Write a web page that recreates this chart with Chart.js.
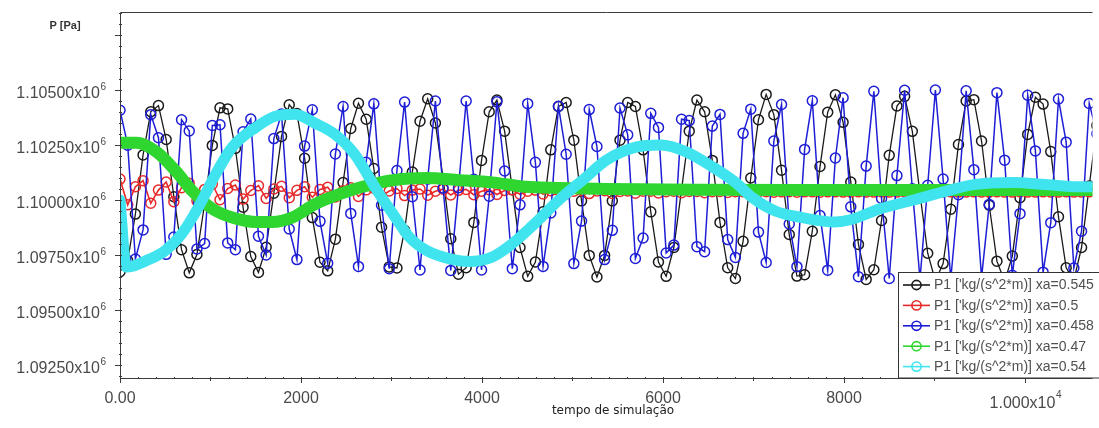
<!DOCTYPE html>
<html>
<head>
<meta charset="utf-8">
<script src="https://cdn.jsdelivr.net/npm/chart.js@4.4.1/dist/chart.umd.min.js"></script>
<style>
  html, body { margin: 0; padding: 0; background: #fff; }
  canvas { display: block; }
</style>
</head>
<body>
<canvas id="chart" width="1099" height="428"></canvas>
<script>
// output step of the simulation (tempo) for the sampled series
const STEP = 85;

// P1 xa=0.545 (black)
const blackP = [1096740, 1097250, 1099360, 1102050, 1104010, 1104290, 1102750, 1100150, 1097740, 1096690,
  1097520, 1099830, 1102480, 1104190, 1104140, 1102340, 1099670, 1097430, 1096710, 1097850,
  1100310, 1102890, 1104330, 1103930, 1101900, 1099200, 1097170, 1096780, 1098220, 1100790,
  1103250, 1104400, 1103670, 1101430, 1098760, 1096960, 1096910, 1098620, 1101270, 1103580,
  1104600, 1103500, 1100980, 1098240, 1096630, 1096920, 1098980, 1101800, 1104010, 1104540,
  1103130, 1100470, 1097840, 1096530, 1097180, 1099460, 1102280, 1104250, 1104430, 1102720,
  1099960, 1097480, 1096500, 1097480, 1099960, 1102720, 1104430, 1104250, 1102280, 1099460,
  1097180, 1096530, 1097840, 1100470, 1103130, 1104540, 1104010, 1101800, 1098980, 1096920,
  1096430, 1098120, 1101000, 1103650, 1104800, 1103880, 1101350, 1098430, 1096540, 1096600,
  1098580, 1101520, 1103990, 1104780, 1103530, 1100820, 1097980, 1096390, 1096830, 1099070,
  1102030, 1104270, 1104710, 1103120, 1100280, 1097580, 1096320, 1097110, 1099580, 1102520,
  1104500, 1104560, 1102680, 1099760, 1097220, 1096300, 1097450, 1100100, 1102980, 1104670,
  1104360, 1102200, 1099240, 1096920, 1096360, 1097840, 1100640, 1103390];

// P1 xa=0.5 (red)
const redP = [1100950, 1099780, 1100600, 1100880, 1099850, 1100450, 1100820, 1099920, 1100560, 1100760,
  1099960, 1100480, 1100720, 1100010, 1100520, 1100680, 1100040, 1100430, 1100650, 1100070,
  1100500, 1100620, 1100100, 1100440, 1100600, 1100120, 1100480, 1100580, 1100140, 1100420,
  1100560, 1100160, 1100460, 1100540, 1100180, 1100410, 1100520, 1100200, 1100450, 1100500,
  1100220, 1100400, 1100490, 1100230, 1100440, 1100480, 1100240, 1100400, 1100470, 1100250,
  1100430, 1100460, 1100260, 1100400, 1100450, 1100270, 1100420, 1100440, 1100280, 1100400,
  1100430, 1100290, 1100410, 1100420, 1100300, 1100390, 1100410, 1100310, 1100400, 1100400,
  1100320, 1100380, 1100400, 1100330, 1100390, 1100390, 1100330, 1100380, 1100390, 1100340,
  1100380, 1100380, 1100340, 1100370, 1100380, 1100350, 1100370, 1100380, 1100350, 1100370,
  1100370, 1100350, 1100370, 1100370, 1100360, 1100360, 1100370, 1100360, 1100360, 1100370,
  1100360, 1100360, 1100370, 1100360, 1100360, 1100370, 1100360, 1100360, 1100370, 1100360,
  1100360, 1100370, 1100360, 1100360, 1100370, 1100360, 1100360, 1100370, 1100360, 1100360,
  1100370, 1100360, 1100360, 1100370, 1100360, 1100360, 1100370];

// P1 xa=0.458 (blue)
const blueP = [1104080, 1102490, 1097320, 1098640, 1103880, 1102830, 1097530, 1098320, 1103650, 1103140,
  1097770, 1098020, 1103390, 1103420, 1098050, 1097740, 1103100, 1103680, 1098350, 1097500,
  1102790, 1103910, 1098680, 1097290, 1102450, 1104100, 1099030, 1097120, 1102090, 1104250,
  1099390, 1096980, 1101720, 1104370, 1099760, 1096880, 1101340, 1104450, 1100150, 1096820,
  1100950, 1104500, 1100540, 1096800, 1100560, 1104500, 1100940, 1096820, 1100170, 1104460,
  1101320, 1096880, 1099780, 1104380, 1101710, 1096980, 1099410, 1104260, 1102080, 1097110,
  1099040, 1104110, 1102430, 1097290, 1098620, 1104180, 1102960, 1097340, 1098270, 1103940,
  1103300, 1097590, 1097950, 1103670, 1103610, 1097880, 1097650, 1103360, 1103890, 1098200,
  1097390, 1103030, 1104130, 1098540, 1097160, 1102680, 1104340, 1098910, 1096970, 1102300,
  1104510, 1099290, 1096810, 1101910, 1104650, 1099690, 1096510, 1101540, 1104940, 1100070,
  1096430, 1101110, 1104990, 1100510, 1096400, 1100670, 1105000, 1100950, 1096410, 1100240,
  1104960, 1101380, 1096470, 1099800, 1104880, 1101810, 1096580, 1099380, 1104760, 1102230,
  1096720, 1098970, 1104590, 1102630, 1096910, 1098580, 1104390, 1103010];

// P1 xa=0.47 (green), read at these times
const greenT = [0, 180, 400, 620, 800, 1020, 1240, 1500, 1680, 1900, 2150, 2450, 2680, 3010, 3390,
  3750, 4110, 4480, 4850, 5400, 6390, 7480, 8580, 9680, 10770];
const greenP = [1102600, 1102600, 1102200, 1101300, 1100400, 1099600, 1099200, 1099000, 1099000, 1099200,
  1099800, 1100300, 1100600, 1100900, 1101000, 1100900, 1100800, 1100600, 1100550, 1100500,
  1100460, 1100450, 1100450, 1100450, 1100450];

// P1 xa=0.54 (cyan), read at these times
const cyanT = [0, 70, 320, 500, 690, 870, 1060, 1240, 1500, 1710, 1930, 2150, 2370, 2590, 2830,
  3010, 3200, 3390, 3670, 3860, 4110, 4300, 4550, 4850, 5140, 5370, 5700, 5980, 6250, 6550,
  6800, 6990, 7240, 7540, 7900, 8070, 8400, 8770, 9130, 9430, 9870, 10230, 10590, 10770];
const cyanP = [1100000, 1096950, 1097300, 1097700, 1098500, 1099700, 1101200, 1102400, 1103300, 1103800,
  1103900, 1103500, 1103000, 1102100, 1100500, 1099400, 1098300, 1097700, 1097300, 1097200,
  1097400, 1097900, 1098800, 1100000, 1101000, 1101800, 1102400, 1102500, 1102200, 1101500,
  1100800, 1100100, 1099500, 1099200, 1099000, 1099100, 1099600, 1100000, 1100400, 1100700,
  1100800, 1100700, 1100600, 1100600];

const seriesNames = [
  "P1 ['kg/(s^2*m)] xa=0.545",
  "P1 ['kg/(s^2*m)] xa=0.5",
  "P1 ['kg/(s^2*m)] xa=0.458",
  "P1 ['kg/(s^2*m)] xa=0.47",
  "P1 ['kg/(s^2*m)] xa=0.54"
];
const seriesColors = ["#1a1a1a", "#e82a2a", "#1e1ed6", "#30d630", "#40e4ee"];

const yTicks = [1092500, 1095000, 1097500, 1100000, 1102500, 1105000];
const yTickLabels = ["1.09250x10", "1.09500x10", "1.09750x10", "1.10000x10", "1.10250x10", "1.10500x10"];
const yTickSup = "6";
const xTicks = [0, 2000, 4000, 6000, 8000, 10000];
const xTickLabels = ["0.00", "2000", "4000", "6000", "8000", "1.000x10"];
const xTickSup = ["", "", "", "", "", "4"];

const stepped = (vals) => vals.map((v, i) => ({ x: i * STEP, y: v }));
const paired = (ts, vals) => ts.map((t, i) => ({ x: t, y: vals[i] }));

function markerSet(label, color, data, order, lw) {
  return {
    label, data, order,
    borderColor: color,
    borderWidth: lw,
    pointRadius: 5,
    pointBorderWidth: 1.5,
    pointBorderColor: color,
    pointBackgroundColor: "rgba(0,0,0,0)",
    tension: 0
  };
}

function bandSet(label, color, data, order, width) {
  return {
    label, data, order,
    borderColor: color,
    borderWidth: width,
    pointRadius: 0,
    cubicInterpolationMode: "monotone",
    borderCapStyle: "round",
    borderJoinStyle: "round"
  };
}

// axes, ticks, labels and the boxed legend
const axesPlugin = {
  id: "axesPlugin",
  afterDraw(chart) {
    const { ctx, chartArea: a, scales: { x, y } } = chart;
    ctx.save();
    ctx.strokeStyle = "#3c3c3c";
    ctx.lineWidth = 1;
    ctx.beginPath();
    ctx.moveTo(a.left + 0.5, a.top + 0.5);
    ctx.lineTo(a.left + 0.5, a.bottom + 0.5);
    ctx.lineTo(a.right, a.bottom + 0.5);
    ctx.moveTo(a.left + 0.5, a.top + 0.5);
    ctx.lineTo(a.right, a.top + 0.5);
    ctx.stroke();

    ctx.beginPath();
    for (let v = 1092000; v <= 1108500; v += 500) {
      const py = Math.round(y.getPixelForValue(v)) + 0.5;
      const major = v % 2500 === 0;
      ctx.moveTo(a.left - (major ? 5 : 1), py);
      ctx.lineTo(a.left + 2, py);
    }
    for (let v = 0; v <= 10700; v += 200) {
      const px = Math.round(x.getPixelForValue(v)) + 0.5;
      const len = v % 2000 === 0 ? 5 : (v % 1000 === 0 ? 3 : 1);
      ctx.moveTo(px, a.bottom - 1);
      ctx.lineTo(px, a.bottom + len);
    }
    ctx.stroke();

    ctx.fillStyle = "#4a4a4a";
    yTicks.forEach((v, i) => {
      const py = y.getPixelForValue(v);
      ctx.font = '16px "Liberation Sans", Arial, sans-serif';
      ctx.textAlign = "right";
      ctx.textBaseline = "alphabetic";
      ctx.fillText(yTickLabels[i], 100, py + 8);
      ctx.font = '10px "Liberation Sans", Arial, sans-serif';
      ctx.textAlign = "left";
      ctx.fillText(yTickSup, 100.5, py + 0.5);
    });

    xTicks.forEach((v, i) => {
      const px = x.getPixelForValue(v);
      ctx.font = '16px "Liberation Sans", Arial, sans-serif';
      ctx.textBaseline = "alphabetic";
      if (xTickSup[i]) {
        const w = ctx.measureText(xTickLabels[i]).width;
        ctx.textAlign = "left";
        const x0 = px - (w + 5) / 2;
        ctx.fillText(xTickLabels[i], x0, 408);
        ctx.font = '10px "Liberation Sans", Arial, sans-serif';
        ctx.fillText(xTickSup[i], x0 + w + 0.5, 398);
      } else {
        ctx.textAlign = "center";
        ctx.fillText(xTickLabels[i], px, 403);
      }
    });

    ctx.fillStyle = "#333";
    ctx.font = 'bold 11px "Liberation Sans", Arial, sans-serif';
    ctx.textAlign = "center";
    ctx.fillText("P [Pa]", 65, 29);
    ctx.fillStyle = "#222";
    ctx.font = '12px "DejaVu Sans", sans-serif';
    ctx.fillText("tempo de simulação", 613, 414);

    const bx = 898.5, by = 272.5;
    ctx.fillStyle = "#fff";
    ctx.fillRect(bx, by, 220, a.bottom - by);
    ctx.strokeStyle = "#333";
    ctx.strokeRect(bx, by, 220, a.bottom - by);
    ctx.font = '14px "Liberation Sans", Arial, sans-serif';
    ctx.textAlign = "left";
    ctx.textBaseline = "middle";
    seriesNames.forEach((name, i) => {
      const ry = 285 + i * 20.4;
      const c = seriesColors[i];
      ctx.strokeStyle = c;
      ctx.lineWidth = 1.6;
      ctx.beginPath();
      ctx.moveTo(903, ry);
      ctx.lineTo(930, ry);
      ctx.stroke();
      ctx.beginPath();
      ctx.arc(916.5, ry, 4.6, 0, Math.PI * 2);
      ctx.stroke();
      ctx.fillStyle = "#505050";
      ctx.fillText(name, 934, ry + 0.5);
    });
    ctx.restore();
  }
};

new Chart(document.getElementById("chart"), {
  type: "line",
  data: {
    datasets: [
      markerSet(seriesNames[0], seriesColors[0], stepped(blackP), 4, 1.3),
      markerSet(seriesNames[1], seriesColors[1], stepped(redP), 3, 1.6),
      markerSet(seriesNames[2], seriesColors[2], stepped(blueP), 2, 1.5),
      bandSet(seriesNames[3], seriesColors[3], paired(greenT, greenP), 1, 12),
      bandSet(seriesNames[4], seriesColors[4], paired(cyanT, cyanP), 0, 11)
    ]
  },
  options: {
    responsive: false,
    animation: false,
    devicePixelRatio: 1,
    layout: { padding: { top: 12, left: 0, right: 0, bottom: 0 } },
    plugins: { legend: { display: false }, tooltip: { enabled: false } },
    scales: {
      x: {
        type: "linear", min: 0, max: 10746,
        ticks: { display: false }, grid: { display: false }, border: { display: false },
        afterFit: (s) => { s.height = 50; }
      },
      y: {
        type: "linear", min: 1091909, max: 1108545,
        ticks: { display: false }, grid: { display: false }, border: { display: false },
        afterFit: (s) => { s.width = 120; }
      }
    }
  },
  plugins: [axesPlugin]
});
</script>
</body>
</html>
